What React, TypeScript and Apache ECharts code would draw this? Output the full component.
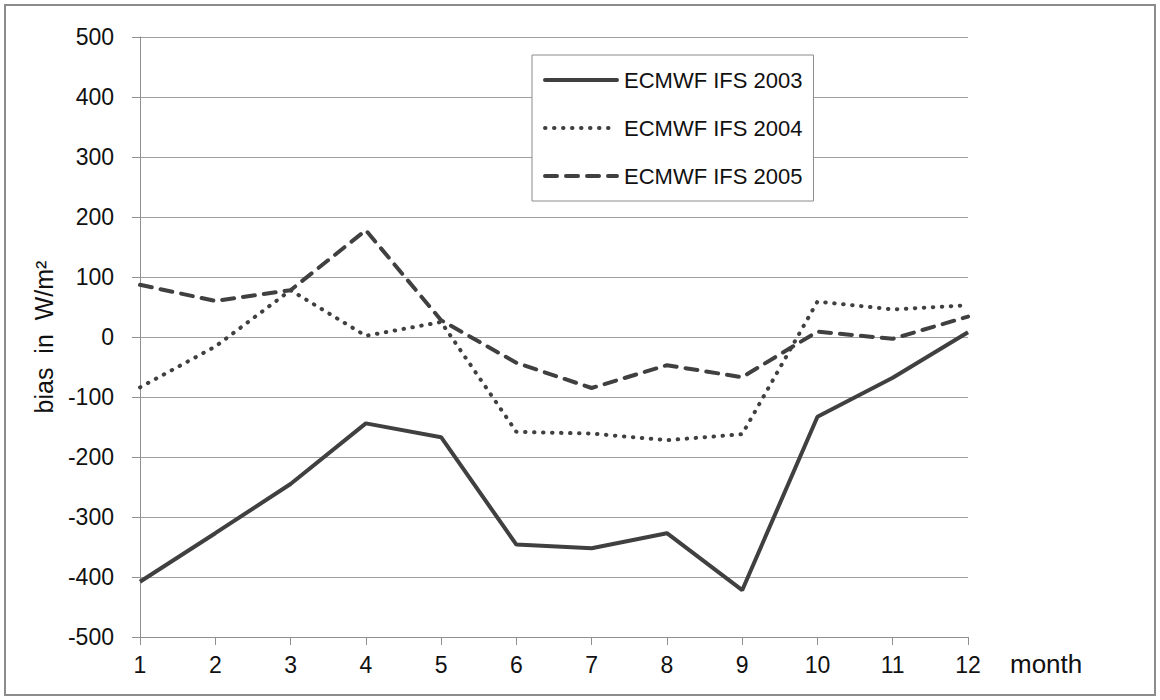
import React, { useEffect, useRef } from "react";
import * as echarts from "echarts";

const months = ["1", "2", "3", "4", "5", "6", "7", "8", "9", "10", "11", "12"];
const ifs2003 = [-408, -327, -245, -144, -167, -346, -352, -327, -422, -133, -68, 8];
const ifs2004 = [-84, -16, 78, 2, 25, -158, -161, -172, -162, 59, 46, 53];
const ifs2005 = [87, 60, 78, 178, 28, -43, -85, -47, -67, 9, -3, 34];
const seriesNames = ["ECMWF IFS 2003", "ECMWF IFS 2004", "ECMWF IFS 2005"];

const LINE = "#404040";
const GRID = "#a0a0a0";
const FONT = "'Liberation Sans', Arial, sans-serif";

export default function App() {
  const ref = useRef<HTMLDivElement>(null);
  useEffect(() => {
    document.body.style.margin = "0";
    const chart = echarts.init(ref.current!, null, { renderer: "svg" });
    chart.setOption({
      animation: false,
      backgroundColor: "#ffffff",
      textStyle: { fontFamily: FONT },
      grid: { left: 140, right: 192, top: 37, bottom: 63 },
      graphic: [
        {
          type: "rect",
          shape: { x: 5, y: 5, width: 1150, height: 690 },
          style: { fill: "none", stroke: "#8c8c8c", lineWidth: 2 },
          silent: true,
        },
      ],
      legend: {
        orient: "vertical",
        left: 532,
        top: 55,
        padding: [14, 11, 14, 11],
        itemWidth: 72,
        itemHeight: 14,
        itemGap: 26,
        borderColor: "#8c8c8c",
        borderWidth: 1,
        backgroundColor: "#ffffff",
        itemStyle: { opacity: 0 },
        lineStyle: { width: 4, color: LINE, cap: "round" },
        textStyle: { fontSize: 22, color: "#111", fontFamily: FONT, padding: [0, 0, 0, 2] },
        data: seriesNames,
      },
      xAxis: {
        type: "category",
        data: months,
        boundaryGap: false,
        name: "month",
        nameLocation: "end",
        nameGap: 42,
        nameTextStyle: { fontSize: 26, color: "#111", verticalAlign: "top", padding: [14, 0, 0, 0] },
        axisLine: { onZero: false, lineStyle: { color: "#909090", width: 1 } },
        axisTick: { show: true, length: 8, lineStyle: { color: "#909090" } },
        axisLabel: { fontSize: 23, color: "#111", margin: 16 },
        splitLine: { show: false },
      },
      yAxis: {
        type: "value",
        min: -500,
        max: 500,
        interval: 100,
        name: "bias  in  W/m²",
        nameLocation: "middle",
        nameGap: 84,
        nameRotate: 90,
        nameTextStyle: { fontSize: 25, color: "#111" },
        axisLine: { show: true, lineStyle: { color: "#909090", width: 1 } },
        axisTick: { show: true, length: 8, lineStyle: { color: "#909090" } },
        axisLabel: { fontSize: 23, color: "#111", margin: 26 },
        splitLine: { show: true, lineStyle: { color: GRID, width: 1 } },
      },
      series: [
        {
          name: seriesNames[0],
          type: "line",
          data: ifs2003,
          symbol: "none",
          lineStyle: { color: LINE, width: 4, type: "solid" },
          itemStyle: { color: LINE },
        },
        {
          name: seriesNames[1],
          type: "line",
          data: ifs2004,
          symbol: "none",
          lineStyle: { color: LINE, width: 4, type: [0.5, 8.5], cap: "round" },
          itemStyle: { color: LINE },
        },
        {
          name: seriesNames[2],
          type: "line",
          data: ifs2005,
          symbol: "none",
          lineStyle: { color: LINE, width: 4, type: [12, 9], cap: "round" },
          itemStyle: { color: LINE },
        },
      ],
    });
    return () => chart.dispose();
  }, []);
  return <div ref={ref} style={{ width: 1160, height: 700 }} />;
}
